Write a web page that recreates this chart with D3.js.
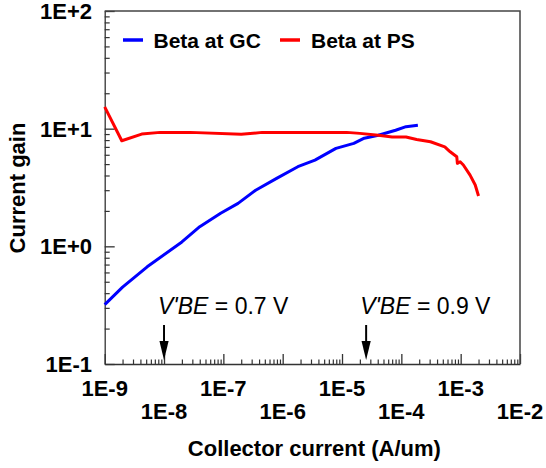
<!DOCTYPE html>
<html>
<head>
<meta charset="utf-8">
<script src="https://cdn.jsdelivr.net/npm/d3@7"></script>
<style>
  html, body { margin: 0; padding: 0; background: #fff; }
  svg { display: block; font-family: "Liberation Sans", Arial, sans-serif; }
</style>
</head>
<body>
<svg id="chart" width="546" height="468"></svg>
<script>
// Collector current (A/um) and current gain for the two bias configurations
const gcCurrent = [1.0e-9, 2.0e-9, 5.2e-9, 2.0e-8, 4.0e-8, 9.0e-8, 1.77e-7, 3.5e-7, 7.9e-7,
                   1.8e-6, 3.5e-6, 7.9e-6, 1.58e-5, 2.37e-5, 4.1e-5, 8.0e-5, 1.2e-4, 1.9e-4];
const gcBeta    = [0.32, 0.45, 0.67, 1.09, 1.47, 1.91, 2.32, 3.0, 3.78,
                   4.75, 5.4, 6.8, 7.5, 8.3, 8.8, 9.7, 10.4, 10.7];

const psCurrent = [1.0e-9, 1.94e-9, 4.2e-9, 8.6e-9, 2.75e-8, 2.0e-7, 4.5e-7, 1.2e-5, 2.0e-5,
                   4.1e-5, 7.0e-5, 1.2e-4, 1.81e-4, 3.1e-4, 5.4e-4, 6.65e-4, 8.6e-4, 8.8e-4,
                   9.8e-4, 1.11e-3, 1.44e-3, 1.76e-3, 2.0e-3];
const psBeta    = [15.3, 7.9, 9.0, 9.3, 9.3, 8.95, 9.3, 9.3, 9.12,
                   8.8, 8.5, 8.5, 8.1, 7.74, 7.0, 6.36, 5.77, 5.07,
                   5.23, 4.91, 4.03, 3.32, 2.68];

const seriesNames  = ["Beta at GC", "Beta at PS"];
const seriesColors = ["#0000ff", "#ff0000"];

const xTickValues = [1e-9, 1e-8, 1e-7, 1e-6, 1e-5, 1e-4, 1e-3, 1e-2];
const xTickLabels = ["1E-9", "1E-8", "1E-7", "1E-6", "1E-5", "1E-4", "1E-3", "1E-2"];
const yTickValues = [0.1, 1, 10, 100];
const yTickLabels = ["1E-1", "1E+0", "1E+1", "1E+2"];

const markerCurrent = [1e-8, 2.55e-5];
const markerVbe     = ["0.7", "0.9"];

const xTitle = "Collector current (A/um)";
const yTitle = "Current gain";

// ---- layout ----
const plot = { left: 104.7, right: 520, top: 11, bottom: 364 };
const svg = d3.select("#chart");

const x = d3.scaleLog().domain([1e-9, 1e-2]).range([plot.left, plot.right]);
const y = d3.scaleLog().domain([0.1, 100]).range([plot.bottom, plot.top]);

// minor ticks: 2..9 within each decade
function minorTicks(majors) {
  const out = [];
  for (let i = 0; i < majors.length - 1; i++)
    for (let k = 2; k <= 9; k++) out.push(majors[i] * k);
  return out;
}

const axisColor = "#333";

// x axis (ticks point inward)
const gx = svg.append("g").attr("transform", `translate(0,${plot.bottom})`);
gx.call(d3.axisBottom(x).tickValues(minorTicks(xTickValues)).tickSize(-4.5).tickFormat("").tickSizeOuter(0));
gx.call(g => g.select(".domain").remove());
const gx2 = svg.append("g").attr("transform", `translate(0,${plot.bottom})`);
gx2.call(d3.axisBottom(x).tickValues(xTickValues).tickSize(-10).tickFormat("").tickSizeOuter(0));
gx2.selectAll("line, path").attr("stroke", axisColor).attr("stroke-width", 1.3);
gx.selectAll("line").attr("stroke", axisColor).attr("stroke-width", 1.2);

// y axis (ticks point inward)
const gy = svg.append("g").attr("transform", `translate(${plot.left},0)`);
gy.call(d3.axisLeft(y).tickValues(minorTicks(yTickValues)).tickSize(-5).tickFormat("").tickSizeOuter(0));
gy.call(g => g.select(".domain").remove());
const gy2 = svg.append("g").attr("transform", `translate(${plot.left},0)`);
gy2.call(d3.axisLeft(y).tickValues(yTickValues).tickSize(-10).tickFormat("").tickSizeOuter(0));
gy2.selectAll("line, path").attr("stroke", axisColor).attr("stroke-width", 1.3);
gy.selectAll("line").attr("stroke", axisColor).attr("stroke-width", 1.2);

// top and right frame
svg.append("path")
  .attr("d", `M${plot.left},${plot.top}H${plot.right}V${plot.bottom}`)
  .attr("fill", "none").attr("stroke", "#444").attr("stroke-width", 1.5);

// tick labels
const labelFont = 22;
svg.append("g").selectAll("text").data(xTickValues).join("text")
  .attr("x", d => x(d))
  .attr("y", (d, i) => i % 2 === 0 ? 396 : 419)
  .attr("text-anchor", "middle")
  .attr("font-weight", "bold").attr("font-size", labelFont)
  .text((d, i) => xTickLabels[i]);

svg.append("g").selectAll("text").data(yTickValues).join("text")
  .attr("x", 92)
  .attr("y", d => y(d) + 8)
  .attr("text-anchor", "end")
  .attr("font-weight", "bold").attr("font-size", labelFont)
  .text((d, i) => yTickLabels[i]);

// axis titles
svg.append("text")
  .attr("x", (plot.left + plot.right) / 2 + 2).attr("y", 456)
  .attr("text-anchor", "middle")
  .attr("font-weight", "bold").attr("font-size", 22)
  .text(xTitle);

svg.append("text")
  .attr("transform", "translate(25,188) rotate(-90)")
  .attr("text-anchor", "middle")
  .attr("font-weight", "bold").attr("font-size", 22)
  .text(yTitle);

// curves
const line = d3.line().x(d => x(d[0])).y(d => y(d[1]));
const series = [
  d3.zip(gcCurrent, gcBeta),
  d3.zip(psCurrent, psBeta)
];
svg.append("g").selectAll("path").data(series).join("path")
  .attr("d", line)
  .attr("fill", "none")
  .attr("stroke", (d, i) => seriesColors[i])
  .attr("stroke-width", 3)
  .attr("stroke-linejoin", "round");

// legend
const legendItems = [
  { lx: 123, tx: 153.5 },
  { lx: 280, tx: 311 }
];
const lg = svg.append("g");
legendItems.forEach((p, i) => {
  lg.append("line")
    .attr("x1", p.lx).attr("x2", p.lx + 20)
    .attr("y1", 40).attr("y2", 40)
    .attr("stroke", seriesColors[i]).attr("stroke-width", 3.5);
  lg.append("text")
    .attr("x", p.tx).attr("y", 48)
    .attr("font-weight", "bold").attr("font-size", 21)
    .text(seriesNames[i]);
});

// V'BE markers with downward arrows
const mk = svg.append("g");
markerCurrent.forEach((c, i) => {
  const cx = x(c);
  const t = mk.append("text")
    .attr("x", cx - 6).attr("y", 314)
    .attr("font-size", 23);
  t.append("tspan").attr("font-style", "italic").text("V'BE");
  t.append("tspan").text(` = ${markerVbe[i]} V`);
  mk.append("line")
    .attr("x1", cx).attr("x2", cx)
    .attr("y1", 325).attr("y2", 345)
    .attr("stroke", "#000").attr("stroke-width", 2);
  mk.append("path")
    .attr("d", `M${cx - 4.6},341L${cx + 4.6},341L${cx},360Z`)
    .attr("fill", "#000");
});
</script>
</body>
</html>
